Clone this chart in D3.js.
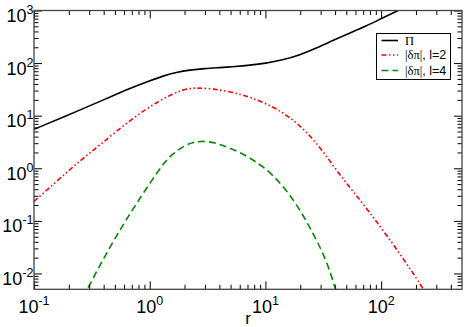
<!DOCTYPE html>
<html><head><meta charset="utf-8">
<script src="https://cdn.jsdelivr.net/npm/d3@7"></script>
<style>
html,body{margin:0;padding:0;background:#fff;}
svg{display:block;font-family:"Liberation Sans",Arial,sans-serif;}
</style></head>
<body>
<svg id="c" width="464" height="327"></svg>
<script>
// ---- data ----
const piR   = [0.1, 0.25, 0.42, 0.675, 1.0, 1.31, 1.7, 2.22, 3.0, 4, 5.5, 7.3, 10, 14, 19.8, 28, 38.4, 55, 74.7, 100, 140, 200];
const piV   = [5.5, 12.8, 21, 33.2, 46, 57, 67, 74, 79, 82, 86, 91, 99, 114, 142, 195, 270, 380, 510, 700, 1000, 1450];
const l2R   = [0.1, 0.168, 0.249, 0.372, 0.675, 1.22, 1.95, 2.54, 3.5, 4.93, 7.33, 11.7, 16, 22.6, 31.6, 43.9, 60, 85.1, 145, 230, 282];
const l2V   = [0.234, 0.646, 1.39, 2.77, 8.28, 19.9, 32.2, 34, 32.5, 28.6, 22.9, 14.8, 9.6, 5.0, 2.1, 0.746, 0.32, 0.12, 0.0242, 0.00524, 0.0025];
const l4R   = [0.24, 0.285, 0.453, 0.675, 1.07, 1.35, 1.6, 2.0, 2.38, 2.9, 3.6, 4.93, 7.33, 11.7, 18.6, 25.8, 33.7, 39.7, 44.7];
const l4V   = [0.0023, 0.00479, 0.0324, 0.139, 0.646, 1.33, 1.93, 2.7, 3.15, 3.3, 3.1, 2.45, 1.62, 0.78, 0.216, 0.058, 0.018, 0.0056, 0.00245];
const xMajor = [0.1, 1, 10, 100];
const yMajor = [0.01, 0.1, 1, 10, 100, 1000];
const xExp = ["-1", "0", "1", "2"];
const yExp = ["-2", "-1", "0", "1", "2", "3"];
const legendSym = ["\u03A0", "|\u03B4\u03C0|", "|\u03B4\u03C0|"];
const legendRest = ["", ", l=2", ", l=4"];

const svg = d3.select("#c");
const L = 34, R = 462, T = 10.5, B = 289.3;
const x = d3.scaleLog().domain([0.1, 500]).range([L, R]);
const y = d3.scaleLog().domain([0.005, 1000]).range([B, T]);

function minors(lo, hi){
  const out=[];
  for(let p=Math.floor(Math.log10(lo)); p<=Math.ceil(Math.log10(hi)); p++)
    for(let m=2;m<=9;m++){const v=m*Math.pow(10,p); if(v>lo && v<hi) out.push(v);}
  return out;
}
const xMinor = minors(0.1, 500), yMinor = minors(0.005, 1000);

svg.append("clipPath").attr("id","clip").append("rect")
  .attr("x",L).attr("y",T).attr("width",R-L).attr("height",B-T);

const line = d3.line().x(d=>x(d[0])).y(d=>y(d[1])).curve(d3.curveBasis);
const series = [
  {r:piR, v:piV, color:"#000", dash:null},
  {r:l2R, v:l2V, color:"#ff0000", dash:"5,2.5,1.5,2.5,1.5,2.5"},
  {r:l4R, v:l4V, color:"#008c00", dash:"7,4"}
];
const g = svg.append("g").attr("clip-path","url(#clip)");
series.forEach(s=>{
  g.append("path").datum(s.r.map((r,i)=>[r,s.v[i]]))
    .attr("d",line).attr("fill","none").attr("stroke",s.color)
    .attr("stroke-width",1.6).attr("stroke-dasharray",s.dash);
});

function styleAxis(sel){
  sel.select(".domain").remove();
  sel.selectAll("line").attr("stroke","#000").attr("stroke-width",1);
  sel.selectAll("text").remove();
}
const mk = [
  [d3.axisBottom(x), `translate(0,${B})`, xMajor, xMinor],
  [d3.axisTop(x), `translate(0,${T})`, xMajor, xMinor],
  [d3.axisLeft(y), `translate(${L},0)`, yMajor, yMinor],
  [d3.axisRight(y), `translate(${R},0)`, yMajor, yMinor]
];
mk.forEach(([ax,tr,maj,min])=>{
  svg.append("g").attr("transform",tr).call(ax.tickValues(maj).tickSize(-8).tickFormat("")).call(styleAxis);
  svg.append("g").attr("transform",tr).call(ax.tickValues(min).tickSize(-4.5).tickFormat("")).call(styleAxis);
});

svg.append("rect").attr("x",L).attr("y",T).attr("width",R-L).attr("height",B-T)
  .attr("fill","none").attr("stroke","#444").attr("stroke-width",1.3);

xMajor.forEach((v,i)=>{
  const t = svg.append("text").attr("x",x(v)).attr("y",312.5).attr("text-anchor","middle")
    .attr("font-size",18).attr("fill","#000");
  t.append("tspan").text("10");
  t.append("tspan").attr("font-size",12.5).attr("dy",-8).text(xExp[i]);
});
yMajor.forEach((v,i)=>{
  const t = svg.append("text").attr("x",33.5).attr("y",y(v)+11.5).attr("text-anchor","end")
    .attr("font-size",18).attr("fill","#000");
  t.append("tspan").text("10");
  t.append("tspan").attr("font-size",12.5).attr("dy",-8).text(yExp[i]);
});
svg.append("text").attr("x",248).attr("y",324).attr("text-anchor","middle")
  .attr("font-size",17).text("r");

const lg = svg.append("g");
lg.append("rect").attr("x",376.5).attr("y",33.5).attr("width",74).attr("height",46)
  .attr("fill","#fff").attr("stroke","#000").attr("stroke-width",1);
const rowsY = [40.5, 55, 70.5];
series.forEach((s,i)=>{
  lg.append("line").attr("x1",381.5).attr("x2",398).attr("y1",rowsY[i]).attr("y2",rowsY[i])
    .attr("stroke",s.color).attr("stroke-width",1.6).attr("stroke-dasharray",s.dash);
  const t = lg.append("text").attr("x",405).attr("y",rowsY[i]+4.3).attr("font-size",12.5);
  t.append("tspan").attr("font-family","'Liberation Serif','Times New Roman',serif").text(legendSym[i]);
  t.append("tspan").text(legendRest[i]);
});
</script>
</body></html>
